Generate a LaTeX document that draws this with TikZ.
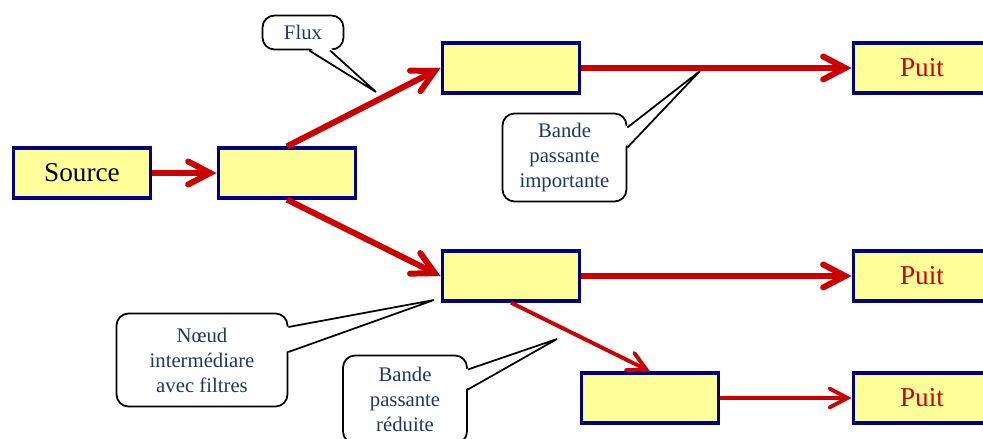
\documentclass[tikz,border=0pt]{standalone}
\usepackage{fontspec}
\setmainfont{Liberation Serif}
\usetikzlibrary{arrows.meta}
\usetikzlibrary{calc}
\definecolor{boxfill}{RGB}{255,255,153}
\definecolor{boxline}{RGB}{0,0,128}
\definecolor{flowred}{RGB}{204,0,0}
\definecolor{notetext}{RGB}{31,56,100}
\tikzset{boite/.style={draw=boxline,line width=1.9pt,fill=boxfill,minimum width=2.75cm,minimum height=1.0cm,inner sep=0pt,font=\fontsize{15.5}{18}\selectfont}}
\tikzset{flux/.style={draw=flowred,line width=3.4pt,-{Straight Barb[length=4.4mm,width=4.6mm,line cap=round]}}}
\tikzset{fluxfin/.style={draw=flowred,line width=2.2pt,-{Straight Barb[length=3.6mm,width=3.8mm,line cap=round]}}}
\tikzset{bulle/.style={draw=black,line width=1pt,fill=white,rounded corners=0.24cm,text=notetext,align=center,inner sep=0pt,font=\fontsize{11.8}{14.2}\selectfont}}

\begin{document}
\begin{tikzpicture}[x=0.02cm,y=-0.02cm]
      \useasboundingbox (0,0) rectangle (983,439);
      % boites
      \node[boite] at (82,173) (source) {Source};
      \node[boite] at (287,173) (relais) {};
      \node[boite] at (511,68) (haut) {};
      \node[boite] at (511,276) (milieu) {};
      \node[boite] at (650,398) (bas) {};
      \node[boite,text=flowred] at (922,68) (puitA) {Puit};
      \node[boite,text=flowred] at (922,276) (puitB) {Puit};
      \node[boite,text=flowred] at (922,398) (puitC) {Puit};

      % flux
      \draw[flux] (source) -- (relais);
      \draw[flux] (relais.north) -- (haut.west);
      \draw[flux] (relais.south) -- (milieu.west);
      \draw[flux] (haut) -- (puitA);
      \draw[flux] (milieu) -- (puitB);
      \draw[fluxfin] (milieu.south) -- (bas.north);
      \draw[fluxfin] (bas) -- (puitC);

      % bulles
      \node[bulle,minimum width=1.62cm,minimum height=0.68cm] at (303,32.5) (noteflux) {Flux};
      \node[bulle,minimum width=2.48cm,minimum height=1.76cm] at (564.5,157.5) (noteimp) {Bande\\passante\\importante};
      \node[bulle,minimum width=3.42cm,minimum height=1.86cm] at (202,360) (notenoeud) {N\oe ud\\interm\'ediare\\avec filtres};
      \node[bulle,minimum width=2.48cm,minimum height=1.76cm] at (405,399.5) (notered) {Bande\\passante\\r\'eduite};

      \coordinate (ptflux) at (376,92);
      \coordinate (ptimp) at (700,71);
      \coordinate (ptnoeud) at (434,300);
      \coordinate (ptred) at (557,339);

      \fill[white] ($(noteflux.south)+(6,-3)$) -- (ptflux) -- ($(noteflux.south)+(27,-3)$) -- cycle;
      \draw[line width=1pt] ($(noteflux.south)+(6,0)$) -- (ptflux) -- ($(noteflux.south)+(27,0)$);
      \fill[white] ($(noteimp.east)+(-3,-30)$) -- (ptimp) -- ($(noteimp.east)+(-3,-10)$) -- cycle;
      \draw[line width=1pt] ($(noteimp.east)+(0,-30)$) -- (ptimp) -- ($(noteimp.east)+(0,-10)$);
      \fill[white] ($(notenoeud.east)+(-3,-33)$) -- (ptnoeud) -- ($(notenoeud.east)+(-3,-8)$) -- cycle;
      \draw[line width=1pt] ($(notenoeud.east)+(0,-33)$) -- (ptnoeud) -- ($(notenoeud.east)+(0,-8)$);
      \fill[white] ($(notered.east)+(-3,-30)$) -- (ptred) -- ($(notered.east)+(-3,-10)$) -- cycle;
      \draw[line width=1pt] ($(notered.east)+(0,-30)$) -- (ptred) -- ($(notered.east)+(0,-10)$);
\end{tikzpicture}
\end{document}
